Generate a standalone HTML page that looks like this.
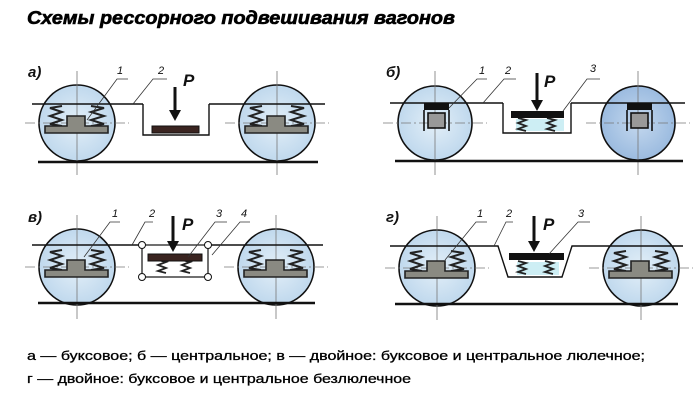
<!DOCTYPE html>
<html><head><meta charset="utf-8"><style>
html,body{margin:0;padding:0;background:#fff;}
svg{display:block;}
</style></head><body>
<svg width="697" height="409" viewBox="0 0 697 409" xmlns="http://www.w3.org/2000/svg">
<defs>
<radialGradient id="wg" cx="50%" cy="50%" r="55%">
<stop offset="0" stop-color="#e3eff8"/><stop offset="1" stop-color="#bcd6ec"/>
</radialGradient>
<radialGradient id="wg2" cx="50%" cy="50%" r="55%">
<stop offset="0" stop-color="#c4d8ee"/><stop offset="1" stop-color="#97b8de"/>
</radialGradient>
<g id="cross" stroke="#777" stroke-width="0.8" fill="none">
<line x1="0" y1="-52" x2="0" y2="52"/><line x1="-52" y1="0" x2="52" y2="0" stroke-dasharray="10 3 2 3"/>
</g>
<g id="box1">
<polyline points="-15,-17 -27,-15 -15,-11 -27,-7 -15,-3 -27,1 -15,3" fill="none" stroke="#222" stroke-width="2"/>
<polyline points="14,-17 27,-15 14,-11 27,-7 14,-3 27,1 14,3" fill="none" stroke="#222" stroke-width="2"/>
<path d="M-32,3 H-10 V-7 H8 V3 H31 V10 H-32 Z" fill="#8a8a82" stroke="#222" stroke-width="1.6"/>
</g>
<g id="wheelA">
<circle r="38" fill="url(#wg)" stroke="#111" stroke-width="1.6"/>
<use href="#cross"/>
<use href="#box1"/>
</g>
<g id="box2">
<rect x="-11" y="-20" width="25" height="7" fill="#111"/>
<path d="M-11,-13 V8 M14,-13 V8" stroke="#111" stroke-width="1.6"/>
<rect x="-7" y="-10" width="17" height="15" fill="#999" stroke="#111" stroke-width="1.6"/>
</g>
<g id="zig">
<polyline points="0,0 8,2 0,5 8,8 0,11 8,13" fill="none" stroke="#222" stroke-width="1.8"/>
</g>
</defs>

<text x="27" y="24" font-family="Liberation Sans, sans-serif" font-size="18" font-weight="900" font-style="italic" stroke="#000" stroke-width="0.6" textLength="428" lengthAdjust="spacingAndGlyphs">Схемы рессорного подвешивания вагонов</text>

<g font-family="Liberation Sans, sans-serif" font-style="italic" fill="#111">
<!-- Panel a -->
<text x="28" y="77" font-size="15" font-weight="bold">а)</text>
<use href="#wheelA" x="77" y="123"/>
<use href="#wheelA" x="277" y="123"/>
<line x1="32" y1="104" x2="143" y2="104" stroke="#111" stroke-width="1.4"/>
<line x1="209" y1="104" x2="325" y2="104" stroke="#111" stroke-width="1.4"/>
<polyline points="143,104 143,135 209,135 209,104" fill="none" stroke="#111" stroke-width="1.4"/>
<line x1="38" y1="162" x2="318" y2="162" stroke="#111" stroke-width="2.4"/>
<rect x="152" y="126" width="47" height="7" fill="#3a2420" stroke="#111"/>
<line x1="175" y1="87" x2="175" y2="112" stroke="#111" stroke-width="3"/>
<polygon points="169,110 181,110 175,121" fill="#111"/>
<text x="183" y="86" font-size="17" font-weight="bold">P</text>
<text x="117" y="74" font-size="11">1</text>
<text x="158" y="74" font-size="11">2</text>
<polyline points="128,79 117,79 87,120" fill="none" stroke="#333" stroke-width="0.8"/>
<polyline points="167,79 153,79 133,104" fill="none" stroke="#333" stroke-width="0.8"/>

<!-- Panel б -->
<text x="386" y="77" font-size="15" font-weight="bold">б)</text>
<g transform="translate(435,123)"><circle r="37" fill="url(#wg)" stroke="#111" stroke-width="1.6"/><use href="#cross"/><use href="#box2"/></g>
<g transform="translate(638,123)"><circle r="37" fill="url(#wg2)" stroke="#111" stroke-width="1.6"/><use href="#cross"/><use href="#box2"/></g>
<line x1="390" y1="103" x2="503" y2="103" stroke="#111" stroke-width="1.4"/>
<line x1="571" y1="103" x2="685" y2="103" stroke="#111" stroke-width="1.4"/>
<polyline points="503,103 503,133 571,133 571,103" fill="none" stroke="#111" stroke-width="1.4"/>
<line x1="395" y1="161" x2="683" y2="161" stroke="#111" stroke-width="2.4"/>
<rect x="516" y="119" width="48" height="12" fill="#cdeef4"/>
<use href="#zig" x="518" y="118"/><use href="#zig" x="547" y="118"/>
<rect x="511" y="111" width="53" height="7" fill="#111"/>
<line x1="537" y1="73" x2="537" y2="102" stroke="#111" stroke-width="3"/>
<polygon points="531,100 543,100 537,111" fill="#111"/>
<text x="544" y="87" font-size="17" font-weight="bold">P</text>
<text x="479" y="74" font-size="11">1</text>
<text x="505" y="74" font-size="11">2</text>
<text x="590" y="72" font-size="11">3</text>
<polyline points="487,79 477,79 449,108" fill="none" stroke="#333" stroke-width="0.8"/>
<polyline points="516,79 504,79 483,103" fill="none" stroke="#333" stroke-width="0.8"/>
<polyline points="600,79 587,79 563,111" fill="none" stroke="#333" stroke-width="0.8"/>

<!-- Panel в -->
<text x="28" y="222" font-size="15" font-weight="bold">в)</text>
<use href="#wheelA" x="77" y="267"/>
<use href="#wheelA" x="276" y="267"/>
<line x1="32" y1="245" x2="142" y2="245" stroke="#111" stroke-width="1.4"/>
<line x1="208" y1="245" x2="323" y2="245" stroke="#111" stroke-width="1.4"/>
<rect x="142" y="245" width="66" height="32" fill="none" stroke="#111" stroke-width="1.2"/>
<line x1="38" y1="303" x2="315" y2="303" stroke="#111" stroke-width="2.4"/>
<use href="#zig" x="158" y="260"/><use href="#zig" x="182" y="260"/>
<rect x="148" y="254" width="54" height="7" fill="#3a2420" stroke="#111"/>
<circle cx="142" cy="245" r="3.5" fill="#fff" stroke="#111"/>
<circle cx="208" cy="245" r="3.5" fill="#fff" stroke="#111"/>
<circle cx="142" cy="277" r="3.5" fill="#fff" stroke="#111"/>
<circle cx="208" cy="277" r="3.5" fill="#fff" stroke="#111"/>
<line x1="173" y1="216" x2="173" y2="243" stroke="#111" stroke-width="3"/>
<polygon points="167,241 179,241 173,252" fill="#111"/>
<text x="182" y="230" font-size="17" font-weight="bold">P</text>
<text x="112" y="217" font-size="11">1</text>
<text x="149" y="217" font-size="11">2</text>
<text x="216" y="217" font-size="11">3</text>
<text x="241" y="217" font-size="11">4</text>
<polyline points="120,222 110,222 84,257" fill="none" stroke="#333" stroke-width="0.8"/>
<polyline points="153,222 145,222 132,245" fill="none" stroke="#333" stroke-width="0.8"/>
<polyline points="227,222 215,222 188,257" fill="none" stroke="#333" stroke-width="0.8"/>
<polyline points="250,222 240,222 212,255" fill="none" stroke="#333" stroke-width="0.8"/>

<!-- Panel г -->
<text x="386" y="222" font-size="15" font-weight="bold">г)</text>
<use href="#wheelA" x="437" y="268"/>
<use href="#wheelA" x="641" y="268"/>
<polyline points="390,246 498,246 508,277 562,277 572,246 683,246" fill="none" stroke="#111" stroke-width="1.4"/>
<line x1="395" y1="304" x2="678" y2="304" stroke="#111" stroke-width="2.4"/>
<rect x="517" y="262" width="42" height="13" fill="#cdeef4"/>
<use href="#zig" x="518" y="261"/><use href="#zig" x="545" y="261"/>
<rect x="509" y="253" width="55" height="7" fill="#111"/>
<line x1="534" y1="216" x2="534" y2="243" stroke="#111" stroke-width="3"/>
<polygon points="528,241 540,241 534,252" fill="#111"/>
<text x="543" y="230" font-size="17" font-weight="bold">P</text>
<text x="477" y="217" font-size="11">1</text>
<text x="506" y="217" font-size="11">2</text>
<text x="578" y="217" font-size="11">3</text>
<polyline points="487,222 476,222 445,260" fill="none" stroke="#333" stroke-width="0.8"/>
<polyline points="513,222 506,222 494,246" fill="none" stroke="#333" stroke-width="0.8"/>
<polyline points="590,222 578,222 549,254" fill="none" stroke="#333" stroke-width="0.8"/>
</g>

<g font-family="Liberation Sans, sans-serif" font-size="13" fill="#000" stroke="#000" stroke-width="0.3">
<text x="27" y="360" textLength="618" lengthAdjust="spacingAndGlyphs">а — буксовое; б — центральное; в — двойное: буксовое и центральное люлечное;</text>
<text x="27" y="383" textLength="384" lengthAdjust="spacingAndGlyphs">г — двойное: буксовое и центральное безлюлечное</text>
</g>
</svg>
</body></html>
